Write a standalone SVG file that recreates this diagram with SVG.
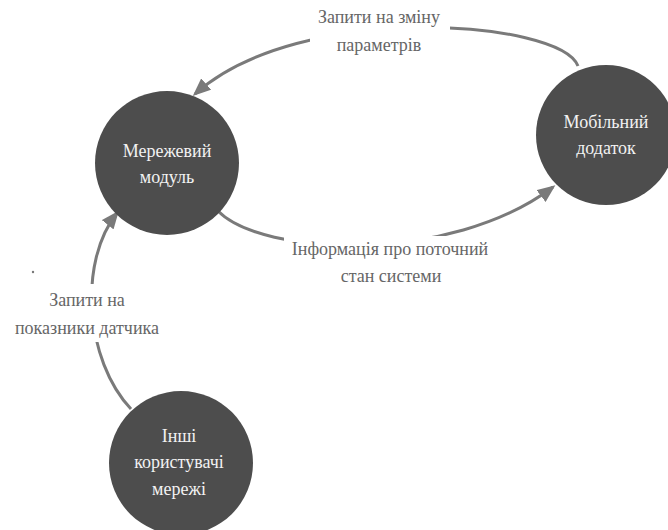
<svg xmlns="http://www.w3.org/2000/svg" width="668" height="530" viewBox="0 0 668 530">
<style>
.node{fill:#4d4d4d}
.nt{font-family:'Liberation Serif','Times New Roman','DejaVu Serif',serif;font-size:18px;fill:#f2f2f2;text-anchor:middle}
.lbl{font-family:'Liberation Serif','Times New Roman','DejaVu Serif',serif;font-size:18px;fill:#666;text-anchor:middle}
.edge{fill:none;stroke:#7a7a7a;stroke-width:3}
.bg{fill:#fff}
</style>
<defs>
<marker id="ah" markerWidth="6" markerHeight="5" refX="5" refY="2.5" orient="auto" markerUnits="strokeWidth">
<path d="M0,0 L6,2.5 L0,5 Z" fill="#7a7a7a"/>
</marker>
</defs>
<rect width="668" height="530" fill="#fff"/>
<g id="connectors">
<path class="edge" d="M578,66 C560,20 300,0 195,94" marker-end="url(#ah)"/>
<rect class="bg" x="310" y="4" width="140" height="54"/>
<text class="lbl" x="379" y="23">Запити на зміну</text>
<text class="lbl" x="379" y="51">параметрів</text>
<path class="edge" d="M218,211 C262,256 450,265 553,187" marker-end="url(#ah)"/>
<rect class="bg" x="284" y="236" width="206" height="52"/>
<text class="lbl" x="390" y="255">Інформація про поточний</text>
<text class="lbl" x="391" y="282">стан системи</text>
<path class="edge" d="M131,409 C85,360 78,262 117,213" marker-end="url(#ah)"/>
<rect class="bg" x="8" y="284" width="160" height="58"/>
<text class="lbl" x="87" y="306">Запити на</text>
<text class="lbl" x="87" y="334">показники датчика</text>
</g>
<circle cx="33" cy="272" r="1.2" fill="#777"/>
<g id="node-network">
<circle class="node" cx="167" cy="163" r="72"/>
<text class="nt" x="167" y="157">Мережевий</text>
<text class="nt" x="167" y="183">модуль</text>
</g>
<g id="node-mobile">
<circle class="node" cx="606" cy="135" r="70"/>
<text class="nt" x="606" y="128">Мобільний</text>
<text class="nt" x="606" y="154">додаток</text>
</g>
<g id="node-users">
<circle class="node" cx="181" cy="463" r="72"/>
<text class="nt" x="179" y="442">Інші</text>
<text class="nt" x="179" y="468">користувачі</text>
<text class="nt" x="179" y="495">мережі</text>
</g>
</svg>
